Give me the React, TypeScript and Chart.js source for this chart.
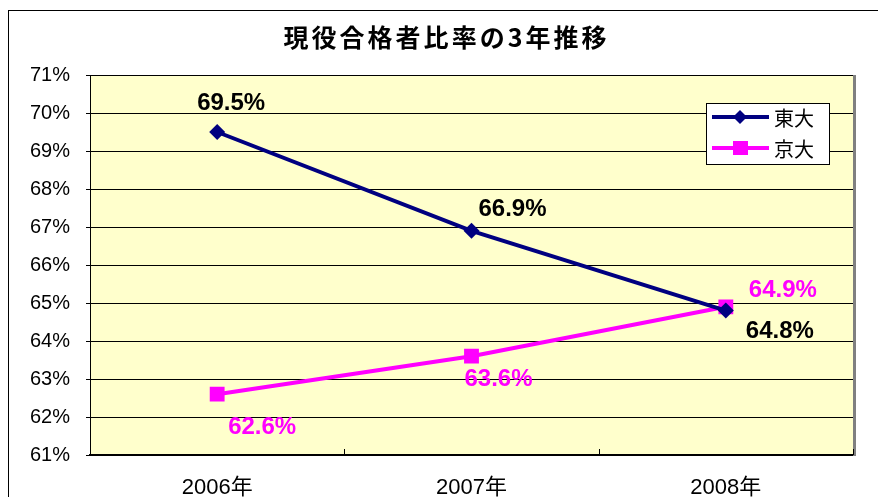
import React, { useEffect, useRef } from "react";
import { Chart, registerables } from "chart.js";

Chart.register(...registerables);

const chartTitle = "現役合格者比率の3年推移";
const categories = ["2006年", "2007年", "2008年"];
const seriesNames = ["東大", "京大"];
const todaiValues = [69.5, 66.9, 64.8];
const kyodaiValues = [62.6, 63.6, 64.9];
const yMin = 61;
const yMax = 71;

const NAVY = "#000080";
const MAGENTA = "#FF00FF";
const PLOT_BG = "#FFFFCC";

// label offsets (px) relative to each point
const labelOffsets = [
  [[14, -29], [41, -21], [54, 21]],
  [[45, 33], [27, 23], [57, -16]],
];
const labelColors = ["#000000", MAGENTA];

const decorPlugin = {
  id: "decor",
  beforeDraw(chart: any) {
    const { ctx, chartArea: a, width, height } = chart;
    ctx.save();
    ctx.fillStyle = "#ffffff";
    ctx.fillRect(0, 0, width, height);
    ctx.strokeStyle = "#000000";
    ctx.lineWidth = 1;
    ctx.strokeRect(8.5, 10.5, 1000, 1000);
    ctx.fillStyle = PLOT_BG;
    ctx.fillRect(a.left, a.top, a.right - a.left, a.bottom - a.top);
    // title
    ctx.font = 'bold 25px "Noto Sans CJK JP", sans-serif';
    (ctx as any).letterSpacing = "3px";
    ctx.fillStyle = "#000000";
    ctx.textBaseline = "middle";
    ctx.textAlign = "left";
    const w = ctx.measureText(chartTitle).width - 3;
    ctx.fillText(chartTitle, 445 - w / 2, 37);
    (ctx as any).letterSpacing = "0px";
    ctx.restore();
  },
  afterDraw(chart: any) {
    const { ctx, chartArea: a, scales } = chart;
    ctx.save();
    // right edge shadow
    ctx.strokeStyle = "#808080";
    ctx.lineWidth = 3;
    ctx.beginPath();
    ctx.moveTo(a.right + 1.5, a.top);
    ctx.lineTo(a.right + 1.5, a.bottom + 1);
    ctx.stroke();
    // x tick marks between categories
    const xs = scales.x;
    ctx.strokeStyle = "#000000";
    ctx.lineWidth = 1;
    for (let i = 0; i < categories.length; i++) {
      const p = xs.getPixelForValue(i);
      const next = i < categories.length - 1 ? xs.getPixelForValue(i + 1) : p + (p - xs.getPixelForValue(i - 1));
      const bx = Math.round((p + next) / 2) + 0.5;
      ctx.beginPath();
      ctx.moveTo(bx, a.bottom);
      ctx.lineTo(bx, a.bottom - 6);
      ctx.stroke();
    }
    // data labels
    ctx.font = 'bold 24px "Liberation Sans", Arial, sans-serif';
    ctx.textAlign = "center";
    ctx.textBaseline = "middle";
    chart.data.datasets.forEach((ds: any, di: number) => {
      const meta = chart.getDatasetMeta(di);
      meta.data.forEach((pt: any, j: number) => {
        const v = ds.data[j];
        const [dx, dy] = labelOffsets[di][j];
        ctx.fillStyle = labelColors[di];
        ctx.fillText(v.toFixed(1) + "%", pt.x + dx, pt.y + dy);
      });
    });
    // legend
    const lx = 706.5, ly = 103.5, lw = 123, lh = 61;
    ctx.fillStyle = "#ffffff";
    ctx.fillRect(lx, ly, lw, lh);
    ctx.strokeStyle = "#000000";
    ctx.lineWidth = 1;
    ctx.strokeRect(lx, ly, lw, lh);
    const rows = [117, 148];
    const cols = [NAVY, MAGENTA];
    rows.forEach((ry, i) => {
      ctx.strokeStyle = cols[i];
      ctx.lineWidth = 4;
      ctx.beginPath();
      ctx.moveTo(712, ry);
      ctx.lineTo(769, ry);
      ctx.stroke();
      ctx.fillStyle = cols[i];
      if (i === 0) {
        ctx.beginPath();
        ctx.moveTo(740 - 7, ry);
        ctx.lineTo(740, ry - 7);
        ctx.lineTo(740 + 7, ry);
        ctx.lineTo(740, ry + 7);
        ctx.closePath();
        ctx.fill();
      } else {
        ctx.fillRect(733, ry - 7, 15, 14);
      }
      ctx.fillStyle = "#000000";
      ctx.font = '20px "Noto Sans CJK JP", sans-serif';
      ctx.textAlign = "left";
      ctx.textBaseline = "middle";
      ctx.fillText(seriesNames[i], 774, ry + 1);
    });
    ctx.restore();
  },
};

export default function App() {
  const ref = useRef<HTMLCanvasElement | null>(null);
  useEffect(() => {
    if (!ref.current) return;
    const chart = new Chart(ref.current, {
      type: "line",
      data: {
        labels: categories,
        datasets: [
          {
            label: seriesNames[0],
            data: todaiValues,
            borderColor: NAVY,
            backgroundColor: NAVY,
            borderWidth: 4,
            pointStyle: "rectRot",
            pointRadius: 8,
            pointBorderWidth: 0,
            tension: 0,
          },
          {
            label: seriesNames[1],
            data: kyodaiValues,
            borderColor: MAGENTA,
            backgroundColor: MAGENTA,
            borderWidth: 4,
            pointStyle: "rect",
            pointRadius: 10.5,
            pointBorderWidth: 0,
            tension: 0,
          },
        ],
      },
      options: {
        responsive: false,
        animation: false,
        layout: { padding: { left: 0, top: 75, right: 25, bottom: 0 } },
        plugins: {
          legend: { display: false },
          title: { display: false },
          tooltip: { enabled: false },
        },
        scales: {
          x: {
            type: "category",
            offset: true,
            grid: { display: false },
            border: { display: true, color: "#000000", width: 2 },
            ticks: {
              color: "#000000",
              padding: 12,
              maxRotation: 0,
              font: { family: '"Liberation Sans", "Noto Sans CJK JP", sans-serif', size: 22 },
            },
            afterFit: (s: any) => {
              s.height = 42;
            },
          },
          y: {
            min: yMin,
            max: yMax,
            grid: { color: "#000000", lineWidth: 1, tickLength: 4, drawTicks: true },
            border: { display: true, color: "#000000", width: 1 },
            ticks: {
              stepSize: 1,
              color: "#000000",
              padding: 16,
              font: { family: '"Liberation Sans", Arial, sans-serif', size: 20 },
              callback: (v: any) => v + "%",
            },
            afterFit: (s: any) => {
              s.width = 90;
            },
          },
        },
      },
      plugins: [decorPlugin],
    });
    return () => chart.destroy();
  }, []);
  return (
    <div style={{ position: "fixed", left: 0, top: 0, width: 878, height: 497 }}>
      <canvas ref={ref} width={878} height={497} style={{ width: 878, height: 497 }} />
    </div>
  );
}
